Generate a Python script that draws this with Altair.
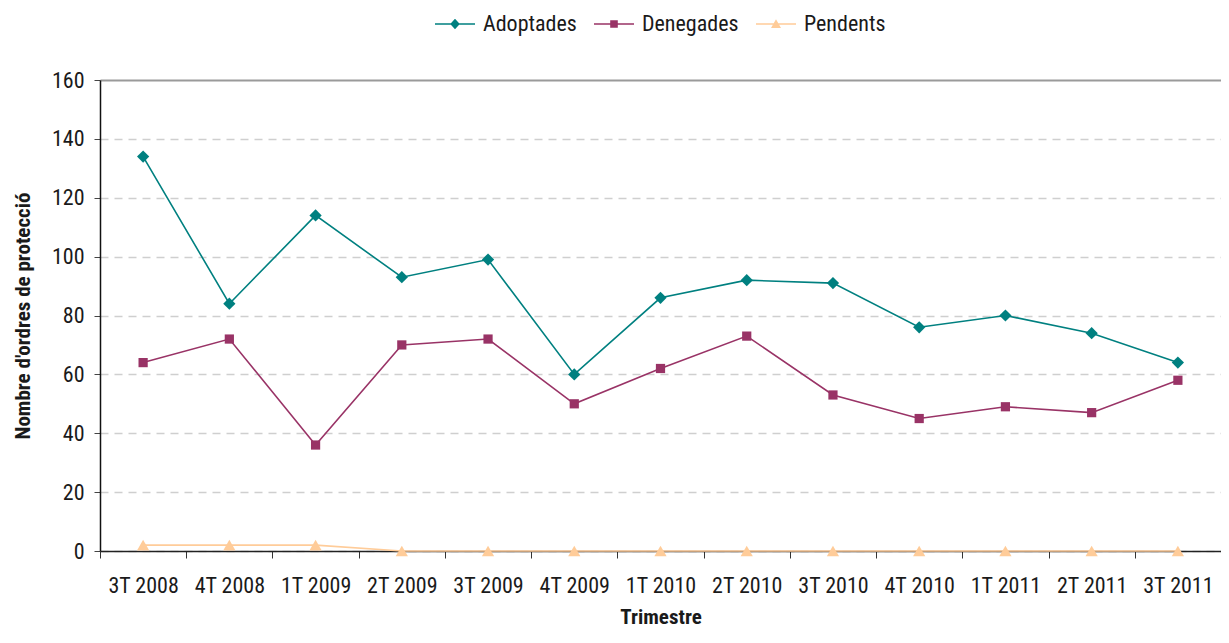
import altair as alt
import pandas as pd

quarters = ["3T 2008", "4T 2008", "1T 2009", "2T 2009", "3T 2009", "4T 2009",
            "1T 2010", "2T 2010", "3T 2010", "4T 2010", "1T 2011", "2T 2011", "3T 2011"]
adoptades = [134, 84, 114, 93, 99, 60, 86, 92, 91, 76, 80, 74, 64]
denegades = [64, 72, 36, 70, 72, 50, 62, 73, 53, 45, 49, 47, 58]
pendents = [2, 2, 2, 0, 0, 0, 0, 0, 0, 0, 0, 0, 0]

series_names = ["Adoptades", "Denegades", "Pendents"]
series_colors = ["#008080", "#993366", "#FFCC99"]
series_shapes = ["diamond", "square", "triangle-up"]
# legend symbols: a short line with the marker on it (unit square -1..1)
legend_shapes = [
    "M-1,-0.035H1V0.035H-1Z M0,-0.26L0.24,0L0,0.26L-0.24,0Z",
    "M-1,-0.035H1V0.035H-1Z M-0.19,-0.19H0.19V0.19H-0.19Z",
    "M-1,-0.035H1V0.035H-1Z M0,-0.24L0.25,0.2H-0.25Z",
]
y_ticks = [0, 20, 40, 60, 80, 100, 120, 140, 160]

rows = []
for name, vals in zip(series_names, [adoptades, denegades, pendents]):
    for q, v in zip(quarters, vals):
        rows.append({"Trimestre": q, "Valor": v, "Serie": name})
df = pd.DataFrame(rows)

FONT = "Liberation Sans Narrow, Arial Narrow, Roboto Condensed, DejaVu Sans Condensed, sans-serif"

x_enc = alt.X("Trimestre:N", sort=quarters, title="Trimestre",
              scale=alt.Scale(paddingInner=0, paddingOuter=0),
              axis=alt.Axis(labelAngle=0, tickBand="extent", tickSize=7,
                            tickColor="#333333", domainColor="#222222",
                            domainWidth=1.5, labelPadding=17, titlePadding=10,
                            grid=False))
y_enc = alt.Y("Valor:Q", title="Nombre d'ordres de protecció",
              scale=alt.Scale(domain=[0, 160], nice=False),
              axis=alt.Axis(values=y_ticks, tickSize=6, tickColor="#444444",
                            domainColor="#111111", domainWidth=1.5,
                            labelPadding=10, titlePadding=18,
                            gridColor={"condition": {"test": "datum.value === 160", "value": "#9a9a9a"}, "value": "#cfcfcf"},
                            gridDash={"condition": {"test": "datum.value === 160", "value": []}, "value": [8, 6]},
                            gridWidth={"condition": {"test": "datum.value === 160", "value": 2}, "value": 1.3}))

lines = alt.Chart(df).mark_line(strokeWidth=1.6).encode(
    x=x_enc, y=y_enc,
    stroke=alt.Stroke("Serie:N", sort=series_names,
                      scale=alt.Scale(domain=series_names, range=series_colors),
                      legend=None),
)

points = alt.Chart(df).mark_point(filled=True, opacity=1).encode(
    x=x_enc, y=y_enc,
    fill=alt.Fill("Serie:N", sort=series_names,
                  scale=alt.Scale(domain=series_names, range=series_colors),
                  legend=None),
    shape=alt.Shape("Serie:N", sort=series_names,
                    scale=alt.Scale(domain=series_names, range=series_shapes),
                    legend=None),
    size=alt.condition(alt.datum.Serie == "Denegades", alt.value(85), alt.value(150)),
)

legend_def = alt.Legend(title=None, orient="none", direction="horizontal",
                        legendX=335, legendY=-76,
                        symbolSize=1600, symbolStrokeWidth=0, symbolOpacity=1,
                        labelFontSize=22, labelFont=FONT,
                        labelColor="#1a1a1a", labelOffset=8,
                        columnPadding=17)

# legend-only layer (invisible marks) carrying the line+marker legend symbols
legend_layer = alt.Chart(df).mark_point(filled=True, opacity=0).encode(
    x=x_enc, y=y_enc,
    color=alt.Color("Serie:N", sort=series_names,
                    scale=alt.Scale(domain=series_names, range=series_colors),
                    legend=legend_def),
    shape=alt.Shape("Serie:N", sort=series_names,
                    scale=alt.Scale(domain=series_names, range=legend_shapes),
                    legend=legend_def),
)

chart = alt.layer(lines, points, legend_layer).resolve_scale(
    shape="independent", color="independent"
).properties(
    width=1121, height=471,
    autosize=alt.AutoSizeParams(type="none"),
    padding={"left": 92, "top": 72, "right": 0, "bottom": 83},
    background="white",
).configure_view(stroke=None).configure_axis(
    labelFont=FONT, titleFont=FONT, labelFontSize=22, titleFontSize=21,
    labelColor="#1a1a1a", titleColor="#1a1a1a", titleFontWeight="bold"
)

chart.save("out.html", embed_options={"renderer": "svg", "actions": False})
